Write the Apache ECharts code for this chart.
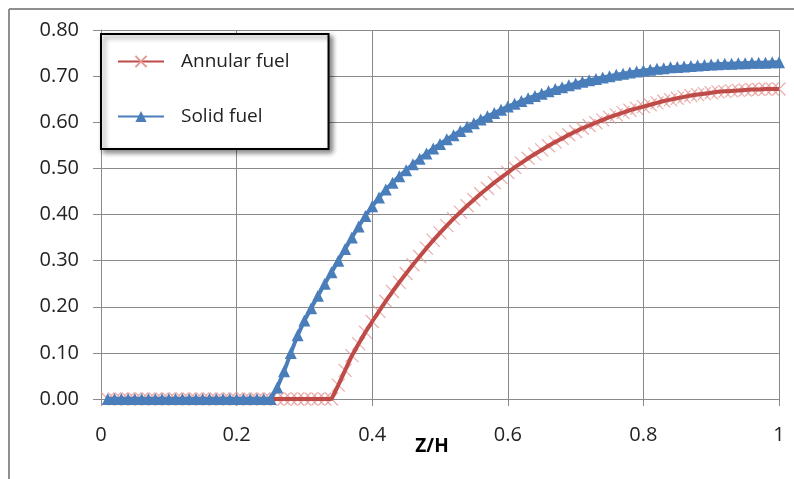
<!DOCTYPE html>
<html>
<head>
<meta charset="utf-8">
<script src="https://cdn.jsdelivr.net/npm/echarts@6/dist/echarts.min.js"></script>
<style>
html,body{margin:0;padding:0;background:#fff;}
#chart{width:794px;height:479px;}
</style>
</head>
<body>
<div id="chart"></div>
<script>
// Z/H positions
var zValues = [0.01,0.02,0.03,0.04,0.05,0.06,0.07,0.08,0.09,0.10,
  0.11,0.12,0.13,0.14,0.15,0.16,0.17,0.18,0.19,0.20,
  0.21,0.22,0.23,0.24,0.25,0.26,0.27,0.28,0.29,0.30,
  0.31,0.32,0.33,0.34,0.35,0.36,0.37,0.38,0.39,0.40,
  0.41,0.42,0.43,0.44,0.45,0.46,0.47,0.48,0.49,0.50,
  0.51,0.52,0.53,0.54,0.55,0.56,0.57,0.58,0.59,0.60,
  0.61,0.62,0.63,0.64,0.65,0.66,0.67,0.68,0.69,0.70,
  0.71,0.72,0.73,0.74,0.75,0.76,0.77,0.78,0.79,0.80,
  0.81,0.82,0.83,0.84,0.85,0.86,0.87,0.88,0.89,0.90,
  0.91,0.92,0.93,0.94,0.95,0.96,0.97,0.98,0.99,1.00];

var annularFuel = [0,0,0,0,0,0,0,0,0,0,
  0,0,0,0,0,0,0,0,0,0,
  0,0,0,0,0,0,0,0,0,0,
  0,0,0,0,0.030,0.062,0.094,0.120,0.145,0.168,
  0.190,0.212,0.233,0.253,0.272,0.291,0.309,0.327,0.344,0.360,
  0.376,0.391,0.405,0.419,0.432,0.445,0.457,0.469,0.480,0.491,
  0.502,0.512,0.522,0.531,0.540,0.549,0.557,0.565,0.573,0.580,
  0.587,0.593,0.599,0.605,0.611,0.616,0.621,0.626,0.630,0.634,
  0.638,0.642,0.646,0.649,0.652,0.655,0.658,0.660,0.662,0.664,
  0.666,0.667,0.668,0.669,0.670,0.671,0.671,0.672,0.672,0.672];

var solidFuel = [0,0,0,0,0,0,0,0,0,0,
  0,0,0,0,0,0,0,0,0,0,
  0,0,0,0,0,0.025,0.060,0.100,0.138,0.170,
  0.197,0.224,0.250,0.275,0.300,0.325,0.350,0.374,0.397,0.418,
  0.437,0.454,0.469,0.483,0.496,0.509,0.521,0.532,0.543,0.553,
  0.563,0.572,0.581,0.590,0.598,0.606,0.613,0.620,0.627,0.634,
  0.640,0.646,0.652,0.657,0.662,0.667,0.672,0.676,0.680,0.684,
  0.688,0.691,0.694,0.697,0.700,0.703,0.705,0.708,0.710,0.712,
  0.714,0.716,0.717,0.719,0.720,0.721,0.722,0.723,0.724,0.725,
  0.726,0.727,0.727,0.728,0.728,0.729,0.729,0.729,0.730,0.730];

var xTicks = [0, 0.2, 0.4, 0.6, 0.8, 1];
var yTicks = [0, 0.1, 0.2, 0.3, 0.4, 0.5, 0.6, 0.7, 0.8];

function pairs(xs, ys){ return xs.map(function(x,i){ return [x, ys[i]]; }); }

var FONT = 'Open Sans';
var GRID = '#8a8a8a';
var X_PATH = 'path://M0,0L10,10M10,0L0,10';
var chart = echarts.init(document.getElementById('chart'), null, {renderer:'canvas'});
chart.setOption({
  animation: false,
  backgroundColor: '#fff',
  grid: {left: 101, right: 15, top: 30, bottom: 80, containLabel: false},
  xAxis: {
    type: 'value', min: xTicks[0], max: xTicks[xTicks.length-1], interval: 0.2,
    axisLine: {show: true, lineStyle: {color: GRID, width: 1}},
    axisTick: {show: true, inside: false, length: 7, lineStyle: {color: GRID}},
    splitLine: {show: true, lineStyle: {color: GRID, width: 1}},
    axisLabel: {color: '#222', fontFamily: FONT, fontSize: 20, margin: 26,
      formatter: function(v){ return String(Math.round(v*10)/10); }}
  },
  yAxis: {
    type: 'value', min: yTicks[0], max: yTicks[yTicks.length-1], interval: 0.1,
    axisLine: {show: true, lineStyle: {color: GRID, width: 1}},
    axisTick: {show: true, inside: false, length: 8, lineStyle: {color: GRID}},
    splitLine: {show: true, lineStyle: {color: GRID, width: 1}},
    axisLabel: {color: '#222', fontFamily: FONT, fontSize: 20, margin: 22,
      formatter: function(v){ return v.toFixed(2); }}
  },
  legend: {
    orient: 'vertical', left: 101, top: 34,
    padding: [18, 39, 23, 16],
    itemWidth: 46, itemHeight: 14, itemGap: 36,
    backgroundColor: '#fff', borderColor: '#000', borderWidth: 2, borderRadius: 0,
    shadowColor: 'rgba(0,0,0,0.45)', shadowBlur: 5, shadowOffsetX: 3, shadowOffsetY: 3,
    textStyle: {fontFamily: FONT, fontSize: 19, color: '#222', padding: [0,0,0,12]},
    data: ['Annular fuel', 'Solid fuel']
  },
  graphic: [
    {type: 'line', shape: {x1: 9, y1: 9, x2: 794, y2: 9}, style: {stroke: '#8f8f8f', lineWidth: 2}, silent: true},
    {type: 'line', shape: {x1: 9, y1: 9, x2: 9, y2: 479}, style: {stroke: '#8f8f8f', lineWidth: 2}, silent: true},
    {type: 'text', x: 432, y: 447, style: {text: 'Z/H', font: 'bold 19px "Open Sans"', fill: '#000', textAlign: 'center', textVerticalAlign: 'middle'}, silent: true}
  ],
  series: [
    {
      name: 'Annular fuel markers', type: 'scatter', data: pairs(zValues, annularFuel),
      symbol: X_PATH, symbolSize: 13,
      itemStyle: {color: 'rgba(0,0,0,0)', borderColor: '#E59896', borderWidth: 1.2},
      z: 1, silent: true
    },
    {
      name: 'Annular fuel', type: 'line', data: pairs(zValues, annularFuel),
      symbol: X_PATH, symbolSize: 13, showSymbol: false,
      itemStyle: {color: 'rgba(0,0,0,0)', borderColor: '#E59896', borderWidth: 1.2},
      lineStyle: {color: '#BE4B48', width: 4}, z: 2
    },
    {
      name: 'Solid fuel', type: 'line', data: pairs(zValues, solidFuel),
      symbol: 'triangle', symbolSize: 12, showAllSymbol: true,
      itemStyle: {color: '#4A7EBB'},
      lineStyle: {color: '#4A7EBB', width: 4}, z: 3
    }
  ]
});
</script>
</body>
</html>
